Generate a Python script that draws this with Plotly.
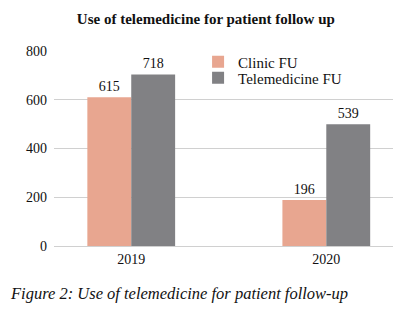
import plotly.graph_objects as go

years = ["2019", "2020"]
clinic_labels = [615, 196]
tele_labels = [718, 539]
# bar heights as drawn in the reference picture
clinic_heights = [610, 189]
tele_heights = [704, 499]
y_ticks = [0, 200, 400, 600, 800]

FONT = "Liberation Serif"

fig = go.Figure()
fig.add_trace(go.Bar(
    x=years, y=clinic_heights, name="Clinic FU", legend="legend",
    marker=dict(color="#E8A690", line=dict(width=0)),
    text=[str(v) for v in clinic_labels], textposition="outside",
    textfont=dict(family=FONT, size=14, color="#111"), cliponaxis=False,
))
fig.add_trace(go.Bar(
    x=years, y=tele_heights, name="Telemedicine FU", legend="legend2",
    marker=dict(color="#818184", line=dict(width=0)),
    text=[str(v) for v in tele_labels], textposition="outside",
    textfont=dict(family=FONT, size=14, color="#111"), cliponaxis=False,
))

leg_common = dict(xanchor="left", yanchor="top", bgcolor="rgba(0,0,0,0)",
                  font=dict(family=FONT, size=15, color="#111"), itemwidth=30)

fig.update_layout(
    width=403, height=306,
    margin=dict(l=46, r=18, t=43, b=68),
    paper_bgcolor="white", plot_bgcolor="white",
    barmode="group", bargap=0.55, bargroupgap=0,
    font=dict(family=FONT, size=14, color="#111"),
    title=dict(text="<b>Use of telemedicine for patient follow up</b>",
               x=0.491, xref="container", xanchor="center",
               y=0.964, yref="container", yanchor="middle",
               font=dict(family=FONT, size=15, color="#111")),
    showlegend=True,
    legend=dict(x=0.425, y=1.028, **leg_common),
    legend2=dict(x=0.425, y=0.946, **leg_common),
    xaxis=dict(range=[-0.396, 1.342], showgrid=False, showline=True,
               linecolor="#d0d0d0", linewidth=1, ticks="",
               tickfont=dict(family=FONT, size=14)),
    yaxis=dict(range=[0, 800], tickvals=y_ticks, showgrid=True,
               gridcolor="#d0d0d0", gridwidth=1, zeroline=False,
               showline=False, ticks="", ticklabelstandoff=6,
               tickfont=dict(family=FONT, size=14)),
)

fig.add_annotation(
    text="<i>Figure 2: Use of telemedicine for patient follow-up</i>",
    xref="paper", yref="paper", x=-46/339, y=-0.243,
    xanchor="left", yanchor="middle", showarrow=False,
    font=dict(family=FONT, size=16.5, color="#111"),
)

fig.write_html("out.html")
